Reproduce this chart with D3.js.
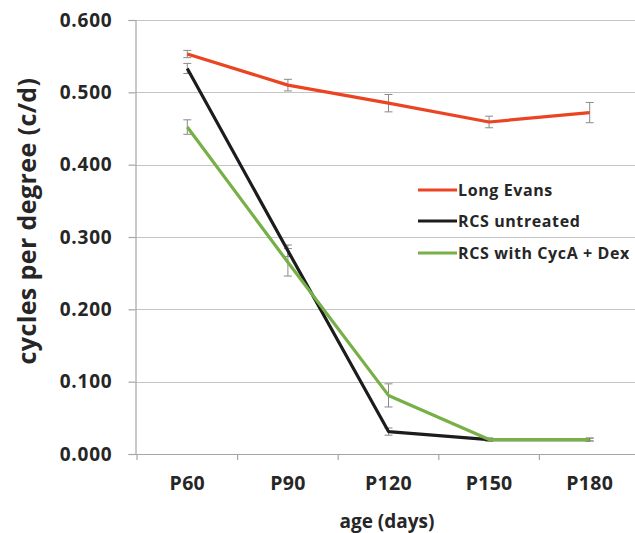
<!DOCTYPE html>
<html><head><meta charset="utf-8">
<script src="https://cdn.jsdelivr.net/npm/d3@7"></script>
<style>body{margin:0;background:#fff}svg{display:block}</style>
</head><body>
<script>
const categories = ["P60","P90","P120","P150","P180"];
const yTicks = [0, 0.1, 0.2, 0.3, 0.4, 0.5, 0.6];
const seriesNames = ["Long Evans","RCS untreated","RCS with CycA + Dex"];
const longEvans = [0.553, 0.510, 0.485, 0.459, 0.472];
const longEvansErr = [0.005, 0.008, 0.012, 0.008, 0.014];
const rcsUntreated = [0.533, 0.281, 0.031, 0.020, 0.020];
const rcsUntreatedErr = [0.007, 0.008, 0.005, 0.002, 0.002];
const rcsCyc = [0.452, 0.265, 0.081, 0.020, 0.020];
const rcsCycErr = [0.010, 0.019, 0.016, 0.002, 0.002];
const colors = ["#ea4422","#1c1c1c","#77b046"];

const W = 635, H = 533;
const mLeft = 135.5, mRight = 640, mTop = 20, mBottom = 454;
const svg = d3.select("body").append("svg").attr("width", W).attr("height", H);
const font = "'Open Sans', sans-serif";

const x = d3.scaleBand().domain(categories).range([mLeft + 1.5, mRight]);
const y = d3.scaleLinear().domain([0, 0.6]).range([mBottom, mTop]);

// gridlines
svg.append("g").selectAll("line").data(yTicks.filter(d => d > 0)).join("line")
  .attr("x1", mLeft).attr("x2", mRight)
  .attr("y1", d => Math.round(y(d)) + 0.5).attr("y2", d => Math.round(y(d)) + 0.5)
  .attr("stroke", "#c4c4c4").attr("stroke-width", 1.2);

// y axis
const yAxis = svg.append("g").attr("transform", `translate(${mLeft},0)`)
  .call(d3.axisLeft(y).tickValues(yTicks).tickFormat(d3.format(".3f")).tickSize(7).tickPadding(16));
yAxis.select(".domain").attr("stroke", "#a6a6a6").attr("stroke-width", 1.2);
yAxis.selectAll(".tick line").attr("stroke", "#a6a6a6").attr("stroke-width", 1.2);
yAxis.selectAll("text").attr("font-family", font).attr("font-weight", 700)
  .attr("font-size", 19).attr("fill", "#262626").attr("letter-spacing", 0.8);

// x axis
const xAxis = svg.append("g").attr("transform", `translate(0,${mBottom})`)
  .call(d3.axisBottom(x).tickSize(0).tickPadding(22));
xAxis.select(".domain").remove();
svg.append("line").attr("x1", mLeft).attr("x2", mRight).attr("y1", mBottom + 0.5).attr("y2", mBottom + 0.5)
  .attr("stroke", "#a6a6a6").attr("stroke-width", 1.2);
const bounds = categories.map(c => x(c)).concat([x(categories[categories.length-1]) + x.bandwidth()]);
svg.append("g").selectAll("line").data(bounds).join("line")
  .attr("x1", d => d).attr("x2", d => d).attr("y1", mBottom).attr("y2", mBottom + 6)
  .attr("stroke", "#a6a6a6").attr("stroke-width", 1.2);
xAxis.selectAll("text").attr("font-family", font).attr("font-weight", 700)
  .attr("font-size", 19.5).attr("fill", "#262626").attr("letter-spacing", 0.3);

// axis titles
svg.append("text").attr("transform", `translate(36,221) rotate(-90)`)
  .attr("text-anchor", "middle").attr("font-family", font).attr("font-weight", 700)
  .attr("font-size", 25).attr("letter-spacing", 0.4).attr("fill", "#262626").text("cycles per  degree (c/d)");
svg.append("text").attr("x", 387).attr("y", 528).attr("text-anchor", "middle")
  .attr("font-family", font).attr("font-weight", 700).attr("font-size", 19)
  .attr("fill", "#262626").text("age (days)");

const series = [
  {vals: longEvans, err: longEvansErr},
  {vals: rcsUntreated, err: rcsUntreatedErr},
  {vals: rcsCyc, err: rcsCycErr}
];
const cx = c => x(c) + x.bandwidth() / 2;
const line = d3.line().x(d => cx(d.c)).y(d => y(d.v));

// error bars
series.forEach((s, i) => {
  const g = svg.append("g");
  const data = categories.map((c, j) => ({c, v: s.vals[j], e: s.err[j]}));
  g.selectAll("line.v").data(data).join("line").attr("class", "v")
    .attr("x1", d => cx(d.c)).attr("x2", d => cx(d.c))
    .attr("y1", d => y(d.v + d.e)).attr("y2", d => y(d.v - d.e))
    .attr("stroke", "#8a8a8a").attr("stroke-width", 1);
  ["t","b"].forEach(k => {
    g.selectAll("line." + k).data(data).join("line").attr("class", k)
      .attr("x1", d => cx(d.c) - 4).attr("x2", d => cx(d.c) + 4)
      .attr("y1", d => y(k === "t" ? d.v + d.e : d.v - d.e))
      .attr("y2", d => y(k === "t" ? d.v + d.e : d.v - d.e))
      .attr("stroke", "#8a8a8a").attr("stroke-width", 1);
  });
});

// lines
series.forEach((s, i) => {
  const data = categories.map((c, j) => ({c, v: s.vals[j]}));
  svg.append("path").datum(data).attr("d", line).attr("fill", "none")
    .attr("stroke", colors[i]).attr("stroke-width", 3.2).attr("stroke-linejoin", "round");
});

// legend
const legY = [190, 221, 253];
seriesNames.forEach((n, i) => {
  svg.append("line").attr("x1", 418).attr("x2", 457).attr("y1", legY[i]).attr("y2", legY[i])
    .attr("stroke", colors[i]).attr("stroke-width", 3);
  svg.append("text").attr("x", 458).attr("y", legY[i] + 6).attr("font-family", font)
    .attr("font-weight", 700).attr("font-size", 16).attr("letter-spacing", 0.6)
    .attr("fill", "#262626").text(n);
});
</script>
</body></html>
